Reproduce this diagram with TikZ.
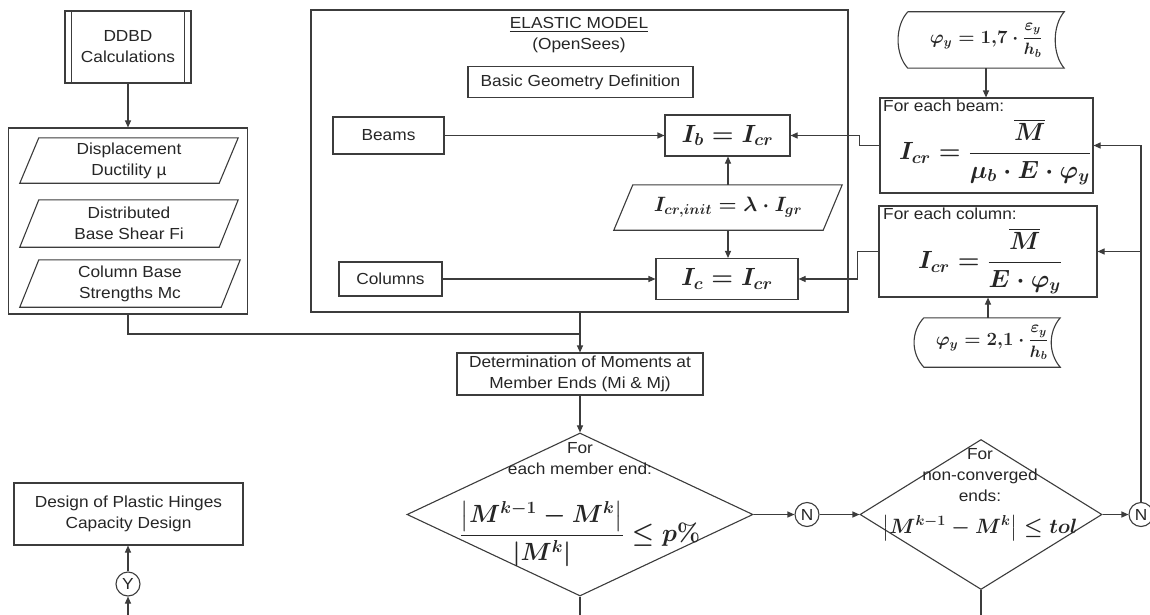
\documentclass[tikz,border=0pt]{standalone}
\usepackage[no-math]{fontspec}
\setmainfont{Liberation Sans}[FakeStretch=1.08]
\usepackage{amsmath}
\usetikzlibrary{shapes.geometric,arrows.meta,calc}
\definecolor{ln}{HTML}{3C3C3C}
\definecolor{tx}{HTML}{262626}
\tikzset{
  every node/.style={text=tx, font=\fontsize{16}{21}\selectfont, inner sep=0pt, align=center},
  box/.style={draw=ln, line width=1.1pt, rectangle},
  dia/.style={draw=ln, line width=1.1pt, diamond},
  circ/.style={draw=ln, line width=1.1pt, circle, minimum size=24pt},
  conn/.style={draw=ln, line width=1.1pt},
  arr/.style={conn, -{Triangle[length=7pt,width=6pt]}},
  mth/.style={font=\fontsize{24}{30}\selectfont\boldmath},
  mths/.style={font=\fontsize{20}{24}\selectfont\boldmath},
  outl/.style={draw=ln, line width=1.1pt}
}
\newcommand\smallfr[2]{\mbox{\raisebox{1pt}{\scalebox{0.88}{$\displaystyle\frac{#1}{#2}$}}}}
\newcommand\mypara[2]{\draw[outl] (#1.south west) -- ([xshift=#2pt]#1.north west) -- (#1.north east) -- ([xshift=-#2pt]#1.south east) -- cycle;}
\newcommand\mystored[1]{\draw[outl] (#1.north west) -- (#1.north east) .. controls ($(#1.north east)+(-12,14)$) and ($(#1.south east)+(-12,-14)$) .. (#1.south east) -- (#1.south west) .. controls ($(#1.south west)+(-13,-14)$) and ($(#1.north west)+(-13,14)$) .. (#1.north west);}
\begin{document}
\begin{tikzpicture}[x=1pt,y=-1pt]
\useasboundingbox (0,0) rectangle (1150,615);
\fill[white] (0,0) rectangle (1150,615);

% ---------- left column ----------
\node[box, minimum width=126, minimum height=72] (ddbd) at (128,47) {DDBD\\Calculations};
\draw[outl] ([xshift=7pt]ddbd.north west) -- ([xshift=7pt]ddbd.south west);
\draw[outl] ([xshift=-7pt]ddbd.north east) -- ([xshift=-7pt]ddbd.south east);

\node[box, minimum width=239, minimum height=186] (inp) at (128,221) {};
\node[minimum width=218, minimum height=45] (p1) at (129,160.5) {Displacement\\Ductility µ};
\mypara{p1}{19}
\node[minimum width=218, minimum height=47] (p2) at (129,223.5) {Distributed\\Base Shear Fi};
\mypara{p2}{19}
\node[minimum width=220, minimum height=47] (p3) at (130,283.5) {Column Base\\Strengths Mc};
\mypara{p3}{19}
\draw[arr] (ddbd.south) -- (ddbd.south |- inp.north);

% ---------- elastic model ----------
\node[box, minimum width=537, minimum height=302] (el) at (579.5,161) {};
\node (elt) at (579,35) {\underline{ELASTIC MODEL}\\(OpenSees)};
\node[box, minimum width=225, minimum height=31] (bg) at (580.5,82) {Basic Geometry Definition};
\node[box, minimum width=111, minimum height=37] (beams) at (388.5,135.5) {Beams};
\node[box, minimum width=103, minimum height=34] (cols) at (390.5,279) {Columns};
\node[box, minimum width=125, minimum height=41, mth] (ib) at (727.5,135.5) {$I_b = I_{cr}$};
\node[minimum width=228, minimum height=45, mth, font=\fontsize{22.5}{28}\selectfont\boldmath] (init) at (728,207.5) {$I_{cr,init} = \lambda\cdot I_{gr}$};
\mypara{init}{19}
\node[box, minimum width=142, minimum height=41, mth] (ic) at (727,279) {$I_c = I_{cr}$};
\draw[arr] (beams) -- (ib);
\draw[arr] (cols) -- (ic);
\draw[arr] (init.north) -- (init.north |- ib.south);
\draw[arr] (init.south) -- (init.south |- ic.north);

% ---------- right column ----------
\node[minimum width=156, minimum height=56, mths] (phi1) at (986,40) {\scalebox{0.9}{$\varphi_y = 1{,}7\cdot\smallfr{\varepsilon_y}{h_b}$}};
\mystored{phi1}
\node[box, minimum width=213, minimum height=95] (beam) at (986.5,145.5) {};
\node[anchor=north west] (bl) at (883,100) {For each beam:};
\node[mth] (bf) at (995,152) {$I_{cr} = \dfrac{\overline{M}}{\mu_b\cdot E\cdot\varphi_y}$};
\node[box, minimum width=218, minimum height=91] (col) at (988,251.5) {};
\node[anchor=north west] (cl) at (883,208) {For each column:};
\node[mth] (cf) at (990,261) {$I_{cr} = \dfrac{\overline{M}}{E\cdot\varphi_y}$};
\node[minimum width=136, minimum height=49, mths] (phi2) at (992,342.5) {\scalebox{0.9}{$\varphi_y = 2{,}1\cdot\smallfr{\varepsilon_y}{h_b}$}};
\mystored{phi2}
\draw[arr] (phi1.south) -- (phi1.south |- beam.north);
\draw[arr] (col.south |- phi2.north) -- (col.south);
\draw[arr] (beam.west) -- ++(-20,0) |- (ib.east);
\draw[arr] (col.west) -- ++(-21,0) |- (ic.east);

% ---------- middle flow ----------
\node[box, minimum width=246, minimum height=42] (det) at (580,374) {Determination of Moments at\\Member Ends (Mi \& Mj)};
\coordinate (mj) at (580,334);
\draw[conn] (inp.south) |- (mj);
\draw[arr] (det.north |- el.south) -- (det.north);
\node[dia, minimum width=346, minimum height=163] (d1) at (580,514.5) {};
\draw[arr] (det) -- (d1);
\node (d1t) at (580,458.5) {For\\each member end:};
\node[font=\fontsize{25}{32}\selectfont\boldmath] (d1f) at (580,534) {$\dfrac{\bigl|M^{k-1}-M^{k}\bigr|}{|M^{k}|}\le p\%$};
\node[circ] (n1) at (807,514.5) {N};
\node[dia, minimum width=242, minimum height=150] (d2) at (981,514.5) {};
\node (d2t) at (980,475) {For\\non-converged\\ends:};
\node[font=\fontsize{21}{28}\selectfont\boldmath] (d2f) at (980,528) {$\bigl|M^{k-1}-M^{k}\bigr|\le tol$};
\node[circ] (n2) at (1141,514.5) {N};
\draw[arr] (d1) -- (n1);
\draw[arr] (n1) -- (d2);
\draw[arr] (d2) -- (n2);
\draw[arr] (n2.north) |- (beam.east);
\draw[arr] (n2.north |- col.east) -- (col.east);
\coordinate (b1) at (580,615);
\coordinate (b2) at (981,615);
\draw[conn] (d1.south) -- (b1);
\draw[conn] (d2.south) -- (b2);

% ---------- bottom left ----------
\node[box, minimum width=229, minimum height=62] (des) at (128.5,514) {Design of Plastic Hinges\\Capacity Design};
\node[circ] (y) at (128,584) {Y};
\coordinate (yb) at (128,615);
\draw[arr] (y) -- (y.north |- des.south);
\draw[arr] (yb) -- (y);
\end{tikzpicture}
\end{document}
